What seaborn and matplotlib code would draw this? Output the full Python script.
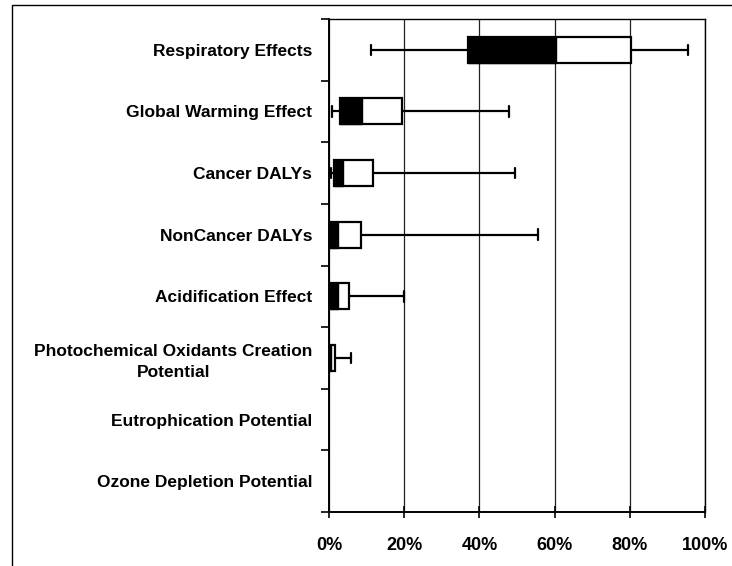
import matplotlib
matplotlib.use("Agg")
import matplotlib.pyplot as plt
import numpy as np
import pandas as pd
import seaborn as sns
from matplotlib.patches import Rectangle
from matplotlib.ticker import FixedLocator, PercentFormatter

# Impact categories, top to bottom
categories = [
    "Respiratory Effects",
    "Global Warming Effect",
    "Cancer DALYs",
    "NonCancer DALYs",
    "Acidification Effect",
    "Photochemical Oxidants Creation\nPotential",
    "Eutrophication Potential",
    "Ozone Depletion Potential",
]

# Five-number summaries (% share); None where nothing is shown
whisker_low = [11.2, 0.7, 0.5, 0.0, 0.0, 0.0, None, None]
quartile_1 = [37.0, 2.9, 1.3, 0.3, 0.3, 0.3, None, None]
median = [60.5, 8.7, 3.8, 2.5, 2.3, 0.5, None, None]
quartile_3 = [80.4, 19.3, 11.6, 8.4, 5.2, 1.6, None, None]
whisker_high = [95.4, 47.9, 49.4, 55.5, 20.0, 5.8, None, None]

x_ticks = [0, 20, 40, 60, 80, 100]

rows = []
for i, cat in enumerate(categories):
    for series in (whisker_low, quartile_1, median, quartile_3, whisker_high):
        v = series[i]
        if v is not None:
            rows.append({"category": cat, "share": v})
df = pd.DataFrame(rows)

sns.set_theme(style="white")
plt.rcParams["font.family"] = ["Liberation Sans", "DejaVu Sans"]
plt.rcParams["font.weight"] = "bold"
plt.rcParams["text.color"] = "black"
plt.rcParams["xtick.color"] = "black"
plt.rcParams["ytick.color"] = "black"
plt.rcParams["xtick.labelcolor"] = "black"
plt.rcParams["ytick.labelcolor"] = "black"

fig = plt.figure(figsize=(7.32, 5.66), dpi=100)
ax = fig.add_axes([329 / 732, 1 - 512 / 566, 376 / 732, (512 - 19) / 566])

box_w = 0.42
sns.boxplot(
    data=df, x="share", y="category", order=categories, orient="y",
    whis=(0, 100), width=box_w, color="white", linecolor="black",
    linewidth=1.6, saturation=1, fill=True, showfliers=False, ax=ax,
    medianprops={"linewidth": 0}, zorder=3,
)

# Dark segment of each box: first quartile to median
pos, left, width = [], [], []
for i in range(len(categories)):
    if quartile_1[i] is not None:
        pos.append(i)
        left.append(quartile_1[i])
        width.append(median[i] - quartile_1[i])
ax.barh(pos, width, left=left, height=box_w, color="black",
        edgecolor="black", linewidth=1.0, zorder=4)

# Shorten whisker caps
for line in ax.lines:
    yd = line.get_ydata()
    xd = line.get_xdata()
    if len(xd) == 2 and xd[0] == xd[1] and abs(yd[1] - yd[0]) > 0:
        c = (yd[0] + yd[1]) / 2
        line.set_ydata([c - 0.085, c + 0.085])

ax.set_xlim(0, 100)
ax.set_ylim(len(categories) - 0.5, -0.5)
ax.xaxis.set_major_locator(FixedLocator(x_ticks))
ax.xaxis.set_major_formatter(PercentFormatter(decimals=0))
ax.grid(axis="x", color="#222222", linewidth=0.9, zorder=0)
ax.grid(axis="y", visible=False)
ax.set_axisbelow(True)
ax.set_xlabel("")
ax.set_ylabel("")

for s in ax.spines.values():
    s.set_color("black")
    s.set_linewidth(1.0)
ax.spines["left"].set_linewidth(1.4)
ax.spines["bottom"].set_linewidth(1.4)

ax.tick_params(axis="x", which="major", direction="inout", length=8,
               width=1.2, color="black", pad=14, labelsize=13,
               labelcolor="black")
ax.tick_params(axis="y", which="major", length=0, pad=12, labelsize=12.5,
               labelcolor="black")
ax.yaxis.set_minor_locator(FixedLocator(np.arange(-0.5, len(categories), 1.0)))
ax.tick_params(axis="y", which="minor", direction="out", length=6,
               width=1.2, color="black", left=True)
ax.tick_params(axis="x", bottom=True)

for lab in ax.get_yticklabels():
    lab.set_fontweight("bold")
    lab.set_color("black")
    lab.set_multialignment("center")
    lab.set_linespacing(1.5)
for lab in ax.get_xticklabels():
    lab.set_fontweight("bold")
    lab.set_color("black")

# Chart area border
fig.patches.append(Rectangle((12 / 732, -0.1), 1.2, 1 - 5 / 566 + 0.1,
                             transform=fig.transFigure, fill=False,
                             edgecolor="black", linewidth=1.0))

fig.savefig("out.png", dpi=100, facecolor="white")
